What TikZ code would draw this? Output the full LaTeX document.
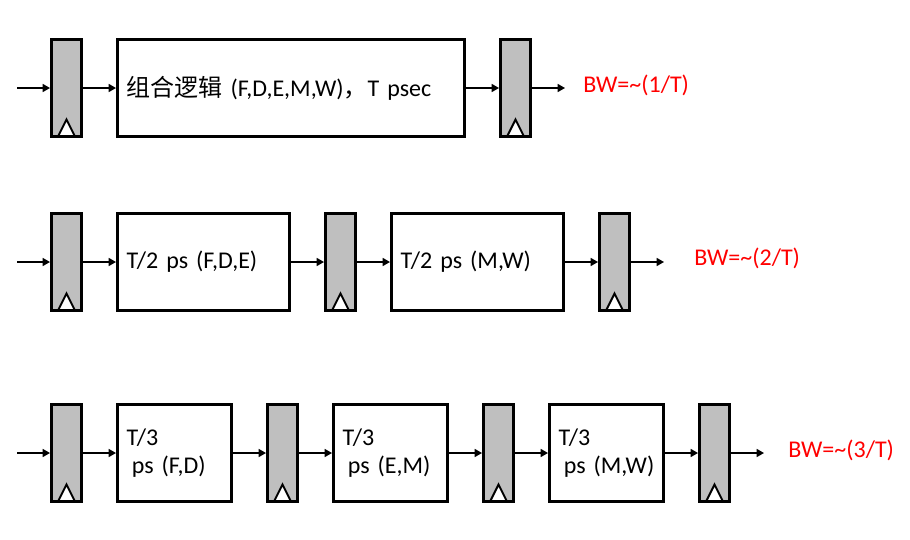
\documentclass[tikz,border=0pt]{standalone}
\usepackage{fontspec}
\setmainfont{Carlito}
\newfontfamily\cjk{Noto Sans CJK SC}
\usepackage{tikz}
\usetikzlibrary{arrows.meta}
\tikzstyle{reg} = [draw, line width=2.25pt, fill=black!25, minimum width=22.5pt, minimum height=72.75pt, inner sep=0pt,
	path picture={\draw[fill=white, line width=1.5pt] (path picture bounding box.south) ++(-8.5,0) -- ++(8.5,-17) -- ++(8.5,17) -- cycle;}]
\tikzstyle{box} = [draw, line width=2.25pt, minimum height=72.75pt, inner xsep=6.75pt, align=left, font=\fontsize{18}{21}\selectfont]
\tikzstyle{arrow} = [line width=1.1pt, -{Triangle[length=5.5pt,width=6pt]}]
\tikzstyle{bw} = [anchor=west, text=red, inner sep=0pt, font=\fontsize{18}{21}\selectfont]

\begin{document}
\begin{tikzpicture}[x=0.75pt, y=-0.75pt]
	\useasboundingbox (0,0) rectangle (910,539);

	\coordinate(in1) at (17, 88);
	\node[reg](r11) at (66.5, 88){};
	\node[box, text width=246.75pt](b11) at (291, 88){{\cjk 组合逻辑} (F,D,E,M,W){\cjk ，}T psec};
	\node[reg](r12) at (515.5, 88){};
	\coordinate(out1) at (565, 88);
	\draw[arrow](in1) -- (r11);
	\draw[arrow](r11) -- (b11);
	\draw[arrow](b11) -- (r12);
	\draw[arrow](r12) -- (out1);
	\node[bw](bw1) at (583, 85){BW=\textasciitilde(1/T)};

	\coordinate(in2) at (17, 262);
	\node[reg](r21) at (66.5, 262){};
	\node[box, text width=115.5pt](b21) at (203.5, 262){T/2 ps (F,D,E)};
	\node[reg](r22) at (340.5, 262){};
	\node[box, text width=115.5pt](b22) at (477.5, 262){T/2 ps (M,W)};
	\node[reg](r23) at (614.5, 262){};
	\coordinate(out2) at (664, 262);
	\draw[arrow](in2) -- (r21);
	\draw[arrow](r21) -- (b21);
	\draw[arrow](b21) -- (r22);
	\draw[arrow](r22) -- (b22);
	\draw[arrow](b22) -- (r23);
	\draw[arrow](r23) -- (out2);
	\node[bw](bw2) at (694, 258){BW=\textasciitilde(2/T)};

	\coordinate(in3) at (17, 453);
	\node[reg](r31) at (66.5, 453){};
	\node[box, text width=72pt](b31) at (174.5, 453){T/3\\\hspace*{0.22em}\mbox{ps (F,D)}};
	\node[reg](r32) at (282.5, 453){};
	\node[box, text width=72pt](b32) at (390.5, 453){T/3\\\hspace*{0.22em}\mbox{ps (E,M)}};
	\node[reg](r33) at (498.5, 453){};
	\node[box, text width=72pt](b33) at (606.5, 453){T/3\\\hspace*{0.22em}\mbox{ps (M,W)}};
	\node[reg](r34) at (714.5, 453){};
	\coordinate(out3) at (764, 453);
	\draw[arrow](in3) -- (r31);
	\draw[arrow](r31) -- (b31);
	\draw[arrow](b31) -- (r32);
	\draw[arrow](r32) -- (b32);
	\draw[arrow](b32) -- (r33);
	\draw[arrow](r33) -- (b33);
	\draw[arrow](b33) -- (r34);
	\draw[arrow](r34) -- (out3);
	\node[bw](bw3) at (788, 450){BW=\textasciitilde(3/T)};
\end{tikzpicture}
\end{document}
